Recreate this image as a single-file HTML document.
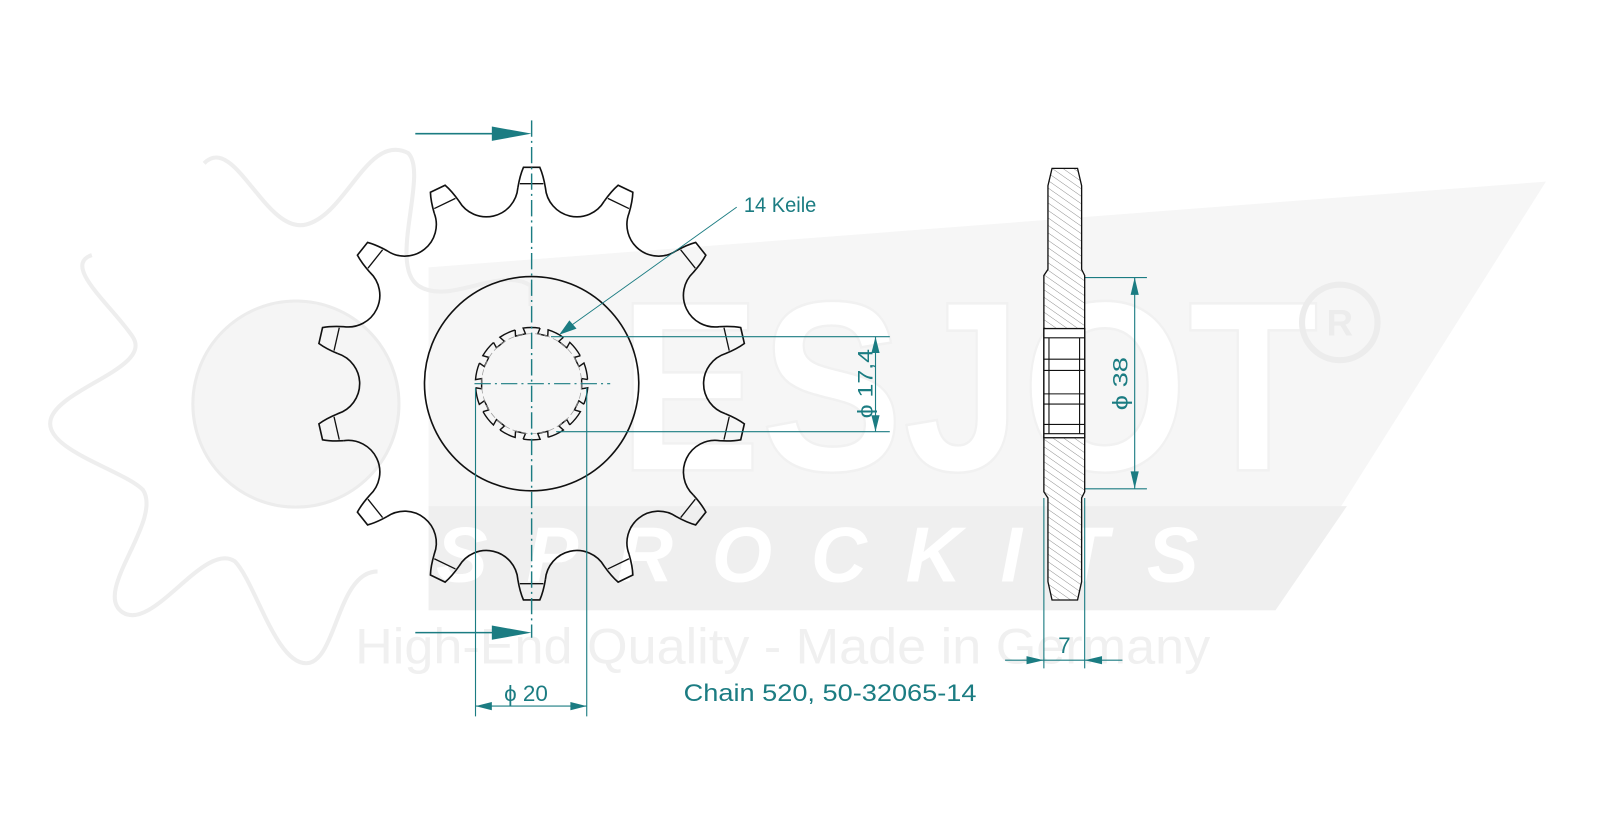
<!DOCTYPE html>
<html><head><meta charset="utf-8"><style>
html,body{margin:0;padding:0;background:#fff;}
svg{display:block;}
</style></head><body>
<svg width="1600" height="824" viewBox="0 0 1600 824" xmlns="http://www.w3.org/2000/svg">
<defs>
<pattern id="hatch" patternUnits="userSpaceOnUse" width="6" height="6" patternTransform="rotate(-55)">
<rect width="6" height="6" fill="#fff"/><line x1="0" y1="0" x2="0" y2="6" stroke="#777" stroke-width="0.8"/>
</pattern>
<path id="tooth" d="M -13.5 -192 Q -11.5 -204 -8 -212 L 8 -212 Q 11.5 -204 13.5 -192 A 31 31 0 0 0 71.15 -178.85" fill="none" stroke="#111" stroke-width="1.6"/>
<path id="chord" d="M -11.5 -196 L 11.5 -196" stroke="#111" stroke-width="1.3"/>
<path id="spl" d="M -4 -55 L -5 -49 L 5 -49 L 4 -55 A 55 55 0 0 1 20 -51.2" fill="none" stroke="#111" stroke-width="1.4"/>
</defs>
<g transform="scale(1.0204)">
<!-- watermark -->
<g>
<polygon points="420,262 1515,178 1250,598 420,598" fill="#f6f6f6"/>
<polygon points="420,496 1320,496 1250,598 420,598" fill="#efefef"/>
<circle cx="290" cy="396" r="101" fill="#f5f5f5" stroke="#ececec" stroke-width="3"/>
<path d="M200,160 C230,130 260,230 300,220 C340,210 360,130 400,150 C420,170 380,260 410,280 C440,300 490,260 520,280 L520,300 M90,250 C60,260 110,300 130,330 C150,360 60,380 50,410 C40,440 120,460 140,480 C160,510 90,580 120,600 C150,620 200,530 230,550 C250,570 270,650 300,650 C330,650 330,560 370,560" fill="none" stroke="#eeeeee" stroke-width="4"/>
<text x="606" y="461" font-family="Liberation Sans, sans-serif" font-size="238" font-weight="bold" fill="#fff" stroke="#f1f1f1" stroke-width="2.5" textLength="686" lengthAdjust="spacingAndGlyphs">ESJOT</text>
<circle cx="1313" cy="316" r="37" fill="none" stroke="#ececec" stroke-width="6"/>
<text x="1313" y="329" font-family="Liberation Sans, sans-serif" font-size="36" font-weight="bold" fill="#ececec" text-anchor="middle">R</text>
<text x="820" y="570" font-family="Liberation Sans, sans-serif" font-size="76" font-weight="bold" font-style="italic" fill="#fff" text-anchor="middle" letter-spacing="38">SPROCKITS</text>
<text x="767" y="650" font-family="Liberation Sans, sans-serif" font-size="49" fill="#f0f0f0" text-anchor="middle" textLength="838" lengthAdjust="spacingAndGlyphs">High-End Quality - Made in Germany</text>
</g>

<!-- sprocket front -->
<g transform="translate(521,376)">
<g>
<use href="#tooth" transform="rotate(0)"/><use href="#tooth" transform="rotate(25.714)"/><use href="#tooth" transform="rotate(51.429)"/><use href="#tooth" transform="rotate(77.143)"/><use href="#tooth" transform="rotate(102.857)"/><use href="#tooth" transform="rotate(128.571)"/><use href="#tooth" transform="rotate(154.286)"/><use href="#tooth" transform="rotate(180)"/><use href="#tooth" transform="rotate(205.714)"/><use href="#tooth" transform="rotate(231.429)"/><use href="#tooth" transform="rotate(257.143)"/><use href="#tooth" transform="rotate(282.857)"/><use href="#tooth" transform="rotate(308.571)"/><use href="#tooth" transform="rotate(334.286)"/>
</g>
<g>
<use href="#chord" transform="rotate(0)"/><use href="#chord" transform="rotate(25.714)"/><use href="#chord" transform="rotate(51.429)"/><use href="#chord" transform="rotate(77.143)"/><use href="#chord" transform="rotate(102.857)"/><use href="#chord" transform="rotate(128.571)"/><use href="#chord" transform="rotate(154.286)"/><use href="#chord" transform="rotate(180)"/><use href="#chord" transform="rotate(205.714)"/><use href="#chord" transform="rotate(231.429)"/><use href="#chord" transform="rotate(257.143)"/><use href="#chord" transform="rotate(282.857)"/><use href="#chord" transform="rotate(308.571)"/><use href="#chord" transform="rotate(334.286)"/>
</g>
<circle r="105" fill="none" stroke="#111" stroke-width="1.6"/>
<g transform="rotate(12.857)">
<use href="#spl" transform="rotate(0)"/><use href="#spl" transform="rotate(25.714)"/><use href="#spl" transform="rotate(51.429)"/><use href="#spl" transform="rotate(77.143)"/><use href="#spl" transform="rotate(102.857)"/><use href="#spl" transform="rotate(128.571)"/><use href="#spl" transform="rotate(154.286)"/><use href="#spl" transform="rotate(180)"/><use href="#spl" transform="rotate(205.714)"/><use href="#spl" transform="rotate(231.429)"/><use href="#spl" transform="rotate(257.143)"/><use href="#spl" transform="rotate(282.857)"/><use href="#spl" transform="rotate(308.571)"/><use href="#spl" transform="rotate(334.286)"/>
</g>
<circle r="49" fill="none" stroke="#999" stroke-width="0.7" stroke-dasharray="6 3"/>
</g>

<!-- teal annotations -->
<g stroke="#1b7c82" fill="none" stroke-width="1.1">
<line x1="521" y1="118" x2="521" y2="625" stroke-dasharray="16 4 2 4" stroke-width="1.4"/>
<line x1="465" y1="376" x2="598" y2="376" stroke-dasharray="16 4 2 4"/>
<line x1="407" y1="131" x2="490" y2="131" stroke-width="1.5"/>
<line x1="407" y1="620" x2="490" y2="620" stroke-width="1.5"/>
<line x1="540" y1="330" x2="872" y2="330"/>
<line x1="545" y1="423" x2="872" y2="423"/>
<line x1="858" y1="330" x2="858" y2="423"/>
<line x1="466" y1="380" x2="466" y2="702"/>
<line x1="575" y1="380" x2="575" y2="702"/>
<line x1="466" y1="692" x2="575" y2="692"/>
<line x1="1063" y1="272" x2="1124" y2="272"/>
<line x1="1063" y1="479" x2="1124" y2="479"/>
<line x1="1112" y1="272" x2="1112" y2="479"/>
<line x1="1023" y1="488" x2="1023" y2="655"/>
<line x1="1063" y1="488" x2="1063" y2="655"/>
<line x1="985" y1="647" x2="1100" y2="647"/>
<line x1="722" y1="203" x2="550" y2="326" stroke-width="0.9"/>
</g>
<g fill="#1b7c82">
<polygon points="482,124 521,131 482,138"/>
<polygon points="482,613 521,620 482,627"/>
<polygon points="858,330 854,346 862,346"/>
<polygon points="858,423 854,407 862,407"/>
<polygon points="466,692 482,688 482,696"/>
<polygon points="575,692 559,688 559,696"/>
<polygon points="1112,272 1108,289 1116,289"/>
<polygon points="1112,479 1108,462 1116,462"/>
<polygon points="1023,647 1006,643 1006,651"/>
<polygon points="1063,647 1080,643 1080,651"/>
<polygon points="548,328 558,314 565,322"/>
</g>
<g font-family="Liberation Sans, sans-serif" fill="#1b7c82">
<text x="729" y="208" font-size="21" textLength="71" lengthAdjust="spacingAndGlyphs">14 Keile</text>
<text transform="translate(855,410) rotate(-90)" font-size="21" textLength="68" lengthAdjust="spacingAndGlyphs">ϕ 17,4</text>
<text transform="translate(1105,402) rotate(-90)" font-size="21" textLength="52" lengthAdjust="spacingAndGlyphs">ϕ 38</text>
<text x="494" y="687" font-size="22">ϕ 20</text>
<text x="1037" y="640" font-size="22">7</text>
<text x="670" y="687" font-size="24" textLength="287" lengthAdjust="spacingAndGlyphs">Chain 520, 50-32065-14</text>
</g>

<!-- side view -->
<g stroke="#111" stroke-width="1.3">
<path d="M1031,165 L1056,165 L1060,182 L1060,264 L1063,270 L1063,482 L1060,488 L1060,570 L1056,588 L1031,588 L1027,570 L1027,488 L1023,482 L1023,270 L1027,264 L1027,182 Z" fill="url(#hatch)"/>
<rect x="1023" y="322" width="40" height="107" fill="#fff"/>
<g fill="none" stroke-width="1.1">
<line x1="1023" y1="331" x2="1063" y2="331"/>
<line x1="1023" y1="352" x2="1063" y2="352"/>
<line x1="1023" y1="363" x2="1063" y2="363"/>
<line x1="1023" y1="386" x2="1063" y2="386"/>
<line x1="1023" y1="396" x2="1063" y2="396"/>
<line x1="1023" y1="416" x2="1063" y2="416"/>
<line x1="1023" y1="425" x2="1063" y2="425"/>
<line x1="1028" y1="331" x2="1028" y2="425"/>
<line x1="1058" y1="331" x2="1058" y2="425"/>
</g>
</g>
</g>
</svg>
</body></html>
